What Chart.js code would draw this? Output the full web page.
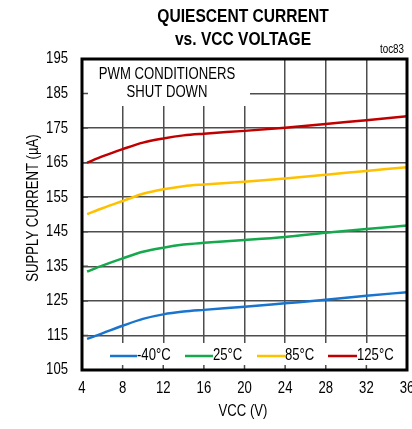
<!DOCTYPE html>
<html>
<head>
<meta charset="utf-8">
<script src="https://cdn.jsdelivr.net/npm/chart.js@4/dist/chart.umd.min.js"></script>
<style>
  html, body { margin: 0; padding: 0; background: #fff; }
  canvas { display: block; }
</style>
</head>
<body>
<canvas id="chart" width="412" height="429"></canvas>
<script>
// ── data ──
const voltages  = [4.5, 6, 8, 10, 12, 14, 16, 20, 24, 28, 32, 36];
const curM40    = [114.0, 115.6, 117.8, 119.8, 121.1, 121.9, 122.4, 123.3, 124.3, 125.3, 126.5, 127.5];
const cur25     = [133.5, 135.2, 137.3, 139.2, 140.4, 141.3, 141.8, 142.6, 143.5, 144.7, 145.8, 146.8];
const cur85     = [150.1, 151.8, 153.9, 156.0, 157.3, 158.2, 158.7, 159.5, 160.4, 161.5, 162.6, 163.7];
const cur125    = [165.0, 166.8, 168.9, 170.8, 172.0, 172.9, 173.4, 174.2, 175.1, 176.2, 177.3, 178.4];
const tempLabels = ['-40°C', '25°C', '85°C', '125°C'];
const lineColors = ['#1874CD', '#16A84C', '#FFC000', '#C00000'];

const FONT = "'Liberation Sans', Arial, sans-serif";
const NARROW = 0.82; // Arial Narrow look, squeezed Liberation Sans

const series = [curM40, cur25, cur85, cur125];
const datasets = series.map((vals, i) => ({
  label: tempLabels[i],
  data: vals.map((v, j) => ({ x: voltages[j], y: v })),
  borderColor: lineColors[i],
  borderWidth: 2.5,
  pointRadius: 0,
  cubicInterpolationMode: 'monotone',
  fill: false
}));

function narrowText(ctx, text, x, y, font, align, rot) {
  ctx.save();
  ctx.font = font;
  ctx.fillStyle = '#000';
  ctx.textAlign = align || 'center';
  ctx.textBaseline = 'middle';
  ctx.translate(x, y);
  if (rot) ctx.rotate(rot);
  ctx.scale(NARROW, 1);
  ctx.fillText(text, 0, 0);
  ctx.restore();
}

// white boxes, inner ticks, texts, frame
const decor = {
  id: 'decor',
  beforeDatasetsDraw(chart) {
    const { ctx, chartArea: a, scales: { x, y } } = chart;
    ctx.save();
    ctx.fillStyle = '#fff';
    ctx.fillRect(a.left, a.top, 168, 47);               // note box
    ctx.fillRect(a.left, 343, a.width, a.bottom - 343); // legend box

    // inner tick marks
    ctx.strokeStyle = '#4d4d4d';
    ctx.lineWidth = 1.5;
    ctx.beginPath();
    y.ticks.forEach(t => { const py = y.getPixelForValue(t.value); ctx.moveTo(a.left, py); ctx.lineTo(a.left + 6, py); });
    x.ticks.forEach(t => { const px = x.getPixelForValue(t.value); ctx.moveTo(px, a.bottom); ctx.lineTo(px, a.bottom - 5); });
    ctx.stroke();
    ctx.restore();

    // note
    const f16 = '16px ' + FONT;
    narrowText(ctx, 'PWM CONDITIONERS', 167, 75, f16);
    narrowText(ctx, 'SHUT DOWN', 167, 93, f16);

    // legend
    const items = [[110, 137], [185, 213], [257, 285], [328, 357]];
    chart.data.datasets.forEach((ds, i) => {
      const [x0, x1] = items[i];
      ctx.save();
      ctx.strokeStyle = ds.borderColor;
      ctx.lineWidth = 2.5;
      ctx.beginPath(); ctx.moveTo(x0, 356); ctx.lineTo(x1, 356); ctx.stroke();
      ctx.restore();
      narrowText(ctx, ds.label, x1, 356, f16, 'left');
    });
  },
  afterDraw(chart) {
    const { ctx, chartArea: a, scales: { x, y } } = chart;
    ctx.save();
    ctx.strokeStyle = '#000';
    ctx.lineWidth = 3;
    ctx.strokeRect(a.left, a.top, a.width, a.height);
    ctx.restore();

    const f16 = '16px ' + FONT;
    // tick labels from the library's scales
    y.ticks.forEach(t => narrowText(ctx, String(t.value), 68, y.getPixelForValue(t.value), f16, 'right'));
    x.ticks.forEach(t => narrowText(ctx, String(t.value), x.getPixelForValue(t.value), 389, f16, 'center'));

    narrowText(ctx, 'QUIESCENT CURRENT', 243, 17, 'bold 19px ' + FONT);
    narrowText(ctx, 'vs. VCC VOLTAGE', 243, 40, 'bold 19px ' + FONT);
    narrowText(ctx, 'toc83', 404, 50, '12px ' + FONT, 'right');
    narrowText(ctx, 'VCC (V)', 243, 412, f16);
    narrowText(ctx, 'SUPPLY CURRENT (µA)', 34, 208, f16, 'center', -Math.PI / 2);
  }
};

new Chart(document.getElementById('chart').getContext('2d'), {
  type: 'line',
  data: { datasets },
  options: {
    responsive: false,
    devicePixelRatio: 1,
    animation: false,
    layout: { padding: { top: 59, right: 5, bottom: 0, left: 0 } },
    plugins: { legend: { display: false }, title: { display: false }, tooltip: { enabled: false } },
    scales: {
      x: {
        type: 'linear', min: 4, max: 36,
        afterFit: s => { s.height = 59; },
        ticks: { stepSize: 4, display: false },
        grid: { color: '#4d4d4d', lineWidth: 1.5, drawTicks: false },
        border: { display: false }
      },
      y: {
        min: 105, max: 195,
        afterFit: s => { s.width = 82; },
        ticks: { stepSize: 10, display: false },
        grid: { color: '#4d4d4d', lineWidth: 1.5, drawTicks: false },
        border: { display: false }
      }
    }
  },
  plugins: [decor]
});
</script>
</body>
</html>
